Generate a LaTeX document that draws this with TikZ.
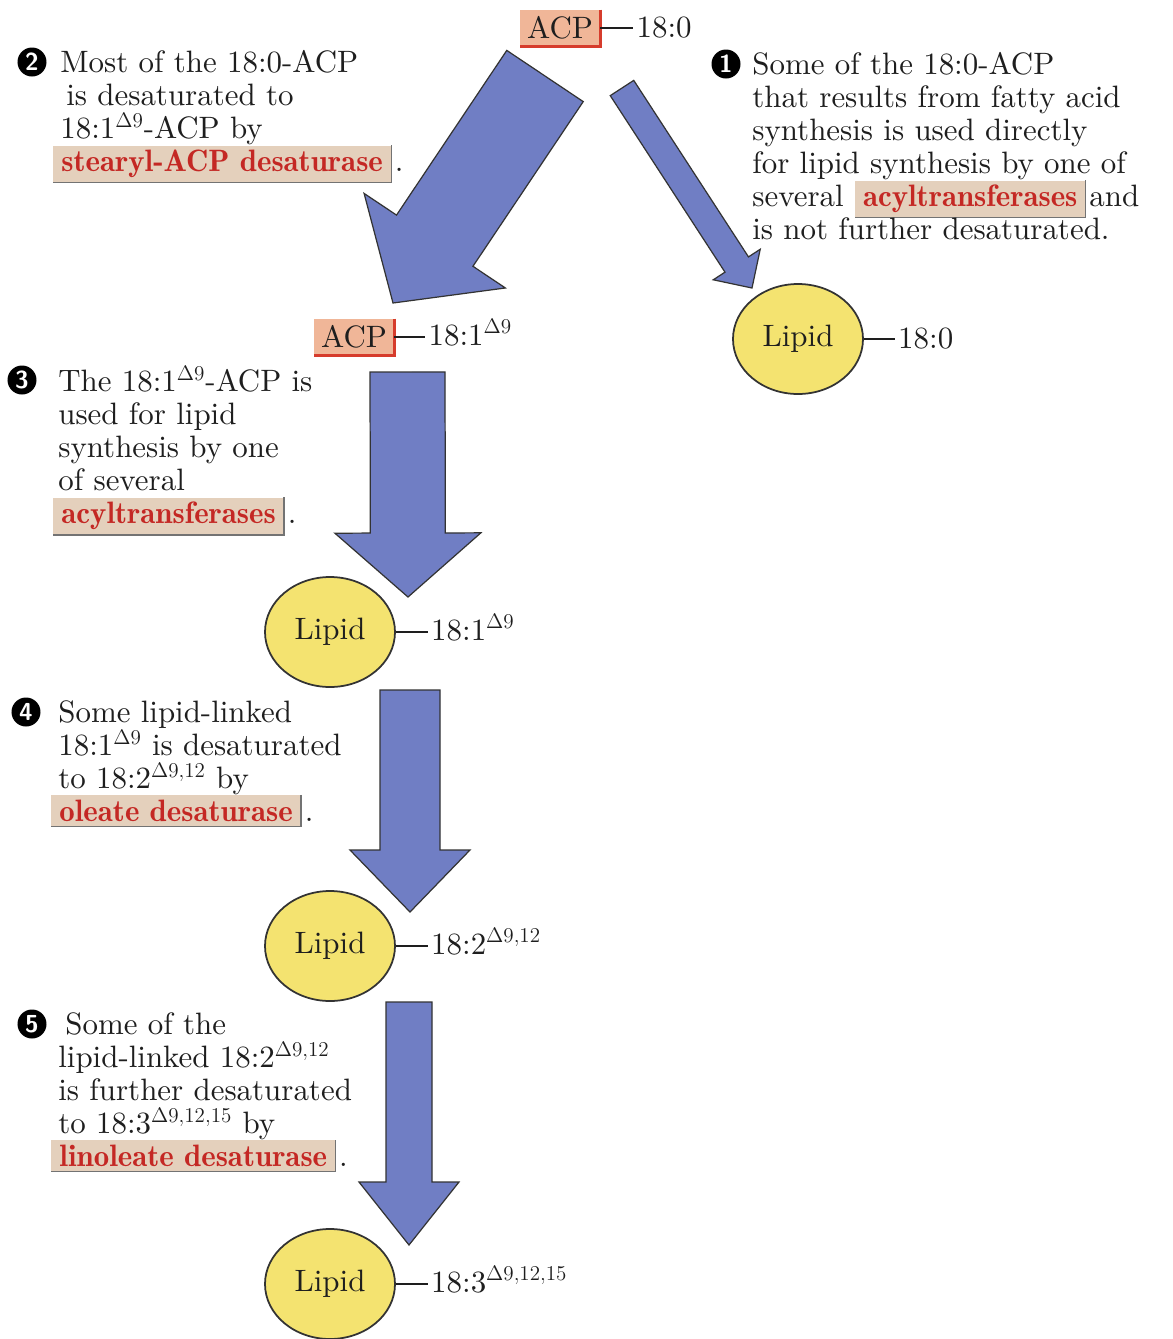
\documentclass[tikz,border=0pt]{standalone}
\usepackage{fontspec}
\setmainfont{lmroman10-regular.otf}[BoldFont=lmromandemi10-regular.otf]
\usepackage{xcolor}
\usepackage{tikz}
\usetikzlibrary{arrows.meta, positioning, calc, shapes.geometric}

\definecolor{arrowblue}{RGB}{112,126,196}
\definecolor{lipidyellow}{RGB}{244,227,112}
\definecolor{acpsalmon}{RGB}{240,182,152}
\definecolor{acpred}{RGB}{214,60,44}
\definecolor{enzfill}{RGB}{228,208,188}
\definecolor{enzred}{RGB}{196,40,36}
\definecolor{inkgray}{RGB}{30,30,30}

\newcommand{\notefont}{\fontsize{17.6}{18.8}\selectfont\lineskiplimit=-20pt\relax}
\tikzset{
  fat/.style={fill=arrowblue, draw=black!80, line width=0.7pt, line join=miter},
  enzbox/.style={fill=enzfill, inner xsep=1.6mm, inner ysep=0.9mm, text=enzred, font=\bfseries},
  enzedge/.style={draw=black!55, line width=0.8pt}
}
\newcommand{\enz}[1]{\tikz[baseline=(e.base)]{\node[enzbox] (e) {#1};
  \draw[enzedge] (e.north east) -- (e.south east) -- (e.south west);}}
\newcommand{\fatarrow}[5]{%
  \coordinate (fh) at ($(#2)!#5!(#1)$);
  \draw[fat] ($(#1)!#3!90:(#2)$) -- ($(fh)!#3!90:(#2)$) -- ($(fh)!#4!90:(#2)$)
    -- (#2) -- ($(fh)!#4!-90:(#2)$) -- ($(fh)!#3!-90:(#2)$)
    -- ($(#1)!#3!-90:(#2)$) -- cycle;}

\begin{document}
\begin{tikzpicture}[x=0.2mm, y=-0.2mm,
    note/.style={align=left, inner sep=0pt, anchor=north west, text=inkgray, font=\notefont},
    num/.style={circle, fill=black, text=white, inner sep=0pt, minimum size=5.8mm,
      font=\sffamily\bfseries\fontsize{14}{14}\selectfont},
    acp/.style={fill=acpsalmon, inner sep=0pt, minimum width=16mm, minimum height=7.2mm,
      text=inkgray, font=\notefont},
    acpedge/.style={draw=acpred, line width=1.6pt},
    lipid/.style={ellipse, draw=black!80, line width=1pt, fill=lipidyellow,
      minimum width=26mm, minimum height=22mm, text=inkgray, font=\notefont},
    chain/.style={inner sep=0pt, text=inkgray, font=\notefont},
    bond/.style={draw=inkgray, line width=0.8pt, shorten >=0.6mm}
  ]
  \useasboundingbox (0,0) rectangle (1173,1339);

  % fat arrows
  \coordinate (a1s) at (545,76);    \coordinate (a1e) at (393,303);
  \coordinate (a2s) at (622,88);    \coordinate (a2e) at (752,288);
  \coordinate (a3s) at (407.5,372); \coordinate (a3e) at (408,597);
  \coordinate (a4s) at (410,690);   \coordinate (a4e) at (410,912);
  \coordinate (a5s) at (409,1002);  \coordinate (a5e) at (409,1245);
  \fatarrow{a1s}{a1e}{9.2mm}{17mm}{15mm}
  \fatarrow{a2s}{a2e}{2.8mm}{5.6mm}{5.6mm}
  \fatarrow{a3s}{a3e}{7.5mm}{14.6mm}{12.8mm}
  \fatarrow{a4s}{a4e}{6mm}{12mm}{12.4mm}
  \fatarrow{a5s}{a5e}{4.6mm}{10mm}{12.6mm}

  % molecules
  \node[acp] (acp0) at (560,28) {ACP};
  \draw[acpedge] (acp0.north east) -- (acp0.south east) -- (acp0.south west);
  \node[chain, right=7.2mm of acp0] (c0) {18:0};
  \draw[bond] (acp0.east) -- (acp0.east -| c0.west);

  \node[acp] (acp1) at (354,337) {ACP};
  \draw[acpedge] (acp1.north east) -- (acp1.south east) -- (acp1.south west);
  \node[chain, right=6.8mm of acp1.east, anchor=base west, yshift=-1.6mm] (c1) {18:1$^{\Delta9}$};
  \draw[bond] (acp1.east) -- (acp1.east -| c1.west);

  \node[lipid] (lip0) at (798,339) {Lipid};
  \node[chain, right=6.8mm of lip0] (c2) {18:0};
  \draw[bond] (lip0.east) -- (lip0.east -| c2.west);

  \node[lipid] (lip1) at (330,632) {Lipid};
  \node[chain, right=7mm of lip1.east, anchor=base west, yshift=-1.6mm] (c3) {18:1$^{\Delta9}$};
  \draw[bond] (lip1.east) -- (lip1.east -| c3.west);

  \node[lipid] (lip2) at (330,946) {Lipid};
  \node[chain, right=7mm of lip2.east, anchor=base west, yshift=-1.6mm] (c4) {18:2$^{\Delta9,12}$};
  \draw[bond] (lip2.east) -- (lip2.east -| c4.west);

  \node[lipid] (lip3) at (330,1284) {Lipid};
  \node[chain, right=7mm of lip3.east, anchor=base west, yshift=-1.6mm] (c5) {18:3$^{\Delta9,12,15}$};
  \draw[bond] (lip3.east) -- (lip3.east -| c5.west);

  % notes
  \node[num] (k1) at (726,64) {1};
  \node[note] (t1) at (752,52) {Some of the 18:0-ACP\\that results from fatty acid\\synthesis is used directly\\
    for lipid synthesis by one of\\several \enz{acyltransferases}\kern0.6mm and\\is not further desaturated.};

  \node[num] (k2) at (32,62) {2};
  \node[note] (t2) at (60,50) {Most of the 18:0-ACP\\\hspace*{1.2mm}is desaturated to\\18:1$^{\Delta9}$-ACP by\\
    \hspace*{-1.6mm}\enz{stearyl-ACP desaturase}\kern0.6mm.};

  \node[num] (k3) at (22,380) {3};
  \node[note] (t3) at (58,366) {The 18:1$^{\Delta9}$-ACP is\\used for lipid\\synthesis by one\\of several\\
    \hspace*{-1.2mm}\enz{acyltransferases}\kern0.6mm.};

  \node[num] (k4) at (26,712) {4};
  \node[note] (t4) at (58,700) {Some lipid-linked\\18:1$^{\Delta9}$ is desaturated\\to 18:2$^{\Delta9,12}$ by\\
    \hspace*{-1.6mm}\enz{oleate desaturase}\kern0.6mm.};

  \node[num] (k5) at (32,1024) {5};
  \node[note] (t5) at (58,1012) {\hspace*{1.4mm}Some of the\\lipid-linked 18:2$^{\Delta9,12}$\\is further desaturated\\
    to 18:3$^{\Delta9,12,15}$ by\\\hspace*{-1.6mm}\enz{linoleate desaturase}\kern0.6mm.};
\end{tikzpicture}
\end{document}
